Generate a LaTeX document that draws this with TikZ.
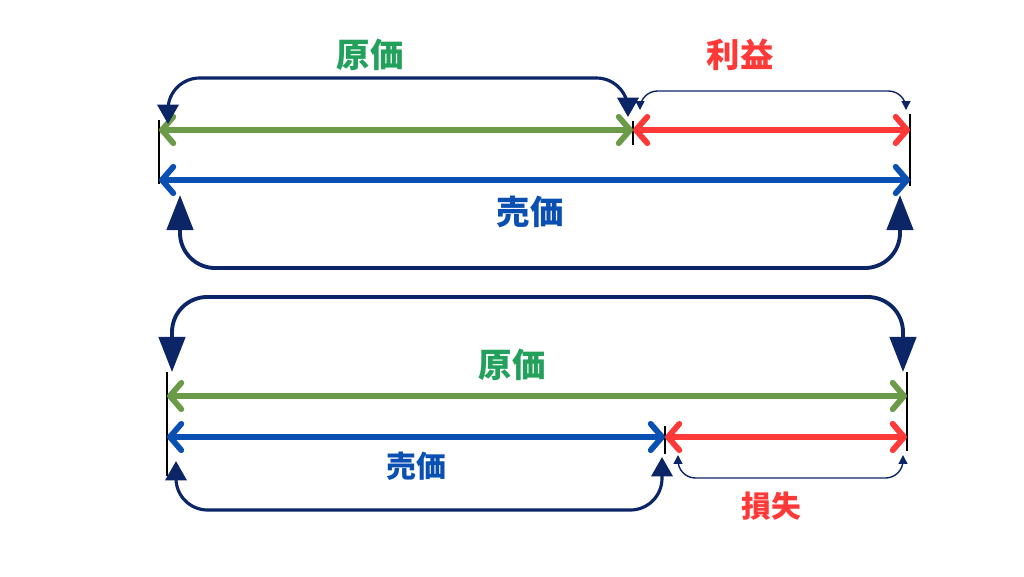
\documentclass[tikz,border=0pt]{standalone}
\usepackage{fontspec}
\newfontfamily\jpfont{Noto Sans CJK JP}
\usetikzlibrary{arrows.meta}
\definecolor{costgreen}{HTML}{6B9A49}
\definecolor{labelgreen}{HTML}{22A05C}
\definecolor{gainred}{HTML}{FF3838}
\definecolor{priceblue}{HTML}{0A4FB2}
\definecolor{navy}{HTML}{0B2566}

\begin{document}
\begin{tikzpicture}[
  x=0.02cm, y=-0.02cm,
  >=Triangle,
  bar/.style={
    line width=3.3pt,
    {Straight Barb[length=6.5pt,width=15pt,round]}-{Straight Barb[length=6.5pt,width=15pt,round]}
  },
  tick/.style={line width=1.2pt},
  bigbend/.style={
    draw=navy,
    line width=2.2pt,
    rounded corners=20pt,
    {Triangle[length=20pt,width=15pt]}-{Triangle[length=20pt,width=15pt]}
  },
  midbend/.style={
    draw=navy,
    line width=1.8pt,
    rounded corners=18pt,
    {Triangle[length=11pt,width=12pt]}-{Triangle[length=11pt,width=12pt]}
  },
  thinbend/.style={
    draw=navy,
    line width=0.8pt,
    rounded corners=10pt,
    {Triangle[length=5pt,width=5pt]}-{Triangle[length=5pt,width=5pt]}
  },
  lbl/.style={font=\jpfont\bfseries\fontsize{19}{19}\selectfont},
  smalllbl/.style={font=\jpfont\bfseries\fontsize{17}{17}\selectfont}
]
\useasboundingbox (0,0) rectangle (1024,576);

% upper case: profit
\coordinate (uL) at (159,130);
\coordinate (uM) at (633,130);
\coordinate (uR) at (910,130);
\coordinate (uLb) at (159,180);
\coordinate (uRb) at (910,180);
\draw[tick] (159,120) -- (159,184);
\draw[tick] (633,121) -- (633,145);
\draw[tick] (910,114) -- (910,186);
\draw[bar,costgreen] (uL) -- (uM);
\draw[bar,gainred] (uM) -- (uR);
\draw[bar,priceblue] (uLb) -- (uRb);
\node[lbl,labelgreen] (cost1) at (370,55) {原価};
\node[lbl,gainred] (gain) at (740,55) {利益};
\node[lbl,priceblue] (price1) at (530,212) {売価};
\coordinate (c1a) at (168,124);
\coordinate (c1b) at (628,117);
\draw[midbend] (c1a) -- (168,78) -- (628,78) -- (c1b);
\coordinate (g1a) at (640,110);
\coordinate (g1b) at (906,110);
\draw[thinbend] (g1a) -- (640,91) -- (906,91) -- (g1b);
\coordinate (p1a) at (180,195);
\coordinate (p1b) at (900,195);
\draw[bigbend] (p1a) -- (180,268) -- (900,268) -- (p1b);

% lower case: loss
\coordinate (lL) at (167,396);
\coordinate (lR) at (907,396);
\coordinate (lLb) at (167,437);
\coordinate (lM) at (665,437);
\coordinate (lRb) at (907,437);
\draw[tick] (167,372) -- (167,476);
\draw[tick] (665,426) -- (665,454);
\draw[tick] (907,372) -- (907,451);
\draw[bar,costgreen] (lL) -- (lR);
\draw[bar,priceblue] (lLb) -- (lM);
\draw[bar,gainred] (lM) -- (lRb);
\node[lbl,labelgreen] (cost2) at (512,365) {原価};
\node[smalllbl,priceblue] (price2) at (416,466) {売価};
\node[smalllbl,gainred] (loss) at (771,506) {損失};
\coordinate (c2a) at (172,372);
\coordinate (c2b) at (903,372);
\draw[bigbend] (c2a) -- (172,297) -- (903,297) -- (c2b);
\coordinate (p2a) at (176,461);
\coordinate (p2b) at (662,457);
\draw[midbend] (p2a) -- (176,510) -- (662,510) -- (p2b);
\coordinate (l2a) at (678,455);
\coordinate (l2b) at (903,455);
\draw[thinbend] (l2a) -- (678,478) -- (903,478) -- (l2b);
\end{tikzpicture}
\end{document}
